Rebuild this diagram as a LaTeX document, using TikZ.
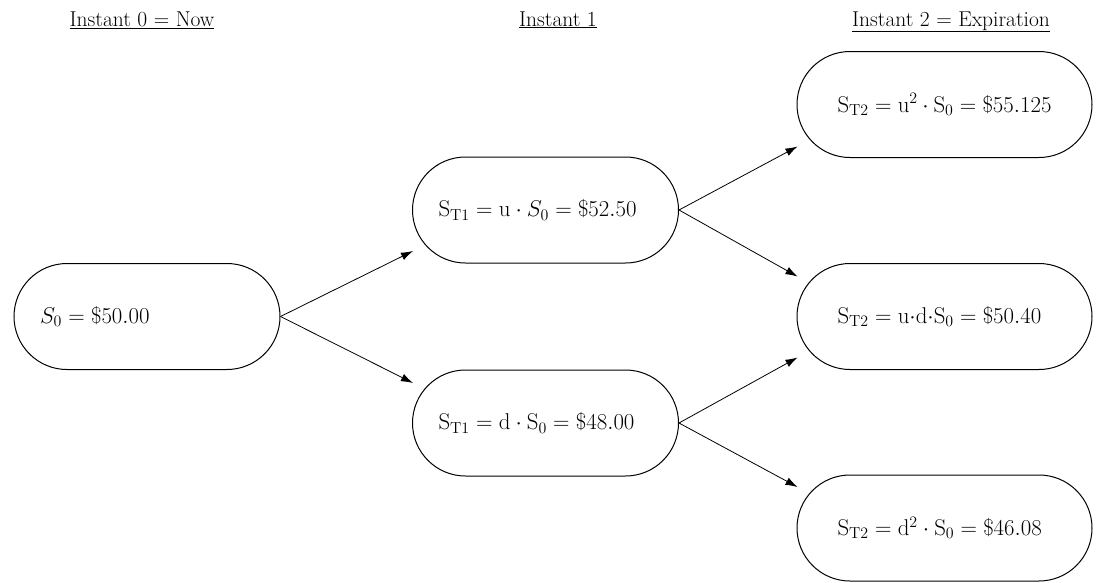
\RequirePackage{fix-cm}
\documentclass[tikz,border=0pt]{standalone}
\usetikzlibrary{arrows.meta,calc}
\begin{document}
\begin{tikzpicture}[x=1pt,y=-1pt,
  every node/.style={font=\fontsize{21.5}{26}\selectfont},
  state/.style={draw, line width=1pt, rectangle, rounded corners=53pt,
    minimum height=106pt, inner sep=0pt, text width=214pt, align=left,
    font=\fontsize{22.8}{27}\selectfont},
  col1/.style={state, minimum width=266pt},
  col3/.style={state, minimum width=295pt},
  head/.style={anchor=base, inner sep=0pt},
  link/.style={line width=0.8pt, -{Latex[length=12pt,width=8pt]}}]
\useasboundingbox (0,0) rectangle (1098,582);

% headers
\node[head] (h0) at (142,26) {\underline{Instant 0 $=$ Now}};
\node[head] (h1) at (558,26) {\underline{Instant 1}};
\node[head] (h2) at (951,26) {\underline{Instant 2 $=$ Expiration}};

% states
\node[col1] (S0)  at (147,316.5) {$S_0 = \$50.00$};
\node[col1] (T1u) at (545.5,210) {$\mathrm{S_{T1}} = \mathrm{u}\cdot S_0 = \$52.50$};
\node[col1] (T1d) at (545.5,423) {$\mathrm{S_{T1}} = \mathrm{d}\cdot \mathrm{S_0} = \$48.00$};
\node[col3] (T2a) at (944.5,104.5) {$\mathrm{S_{T2}} = \mathrm{u}^2\cdot \mathrm{S_0} = \$55.125$};
\node[col3] (T2b) at (944.5,316.5) {$\mathrm{S_{T2}} = \mathrm{u}{\cdot}\mathrm{d}{\cdot}\mathrm{S_0} = \$50.40$};
\node[col3] (T2c) at (944.5,528) {$\mathrm{S_{T2}} = \mathrm{d}^2\cdot \mathrm{S_0} = \$46.08$};

% arrow end points
\coordinate (e1) at ($(T1u.west)+(1,41)$);
\coordinate (e2) at ($(T1d.west)+(1,-40)$);
\coordinate (e3) at ($(T2a.west)+(1,42)$);
\coordinate (e4) at ($(T2b.west)+(1,-40)$);
\coordinate (e5) at ($(T2b.west)+(1,41)$);
\coordinate (e6) at ($(T2c.west)+(1,-41)$);

\draw[link] (S0.east) -- (e1);
\draw[link] (S0.east) -- (e2);
\draw[link] (T1u.east) -- (e3);
\draw[link] (T1u.east) -- (e4);
\draw[link] (T1d.east) -- (e5);
\draw[link] (T1d.east) -- (e6);
\end{tikzpicture}
\end{document}
